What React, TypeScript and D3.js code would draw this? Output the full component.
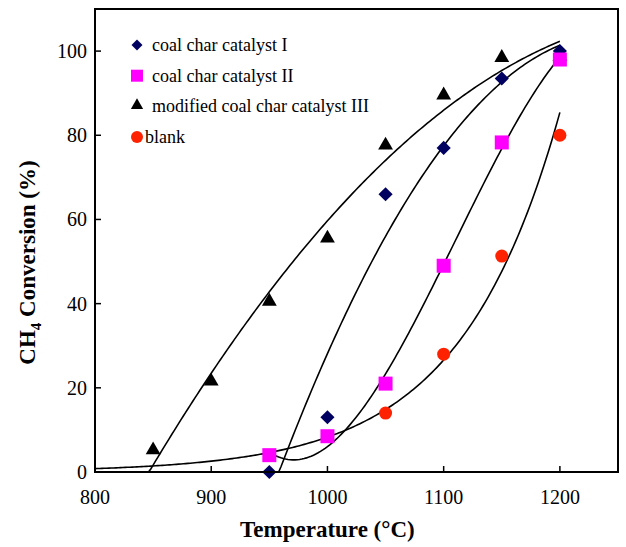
import React from "react";
import * as d3 from "d3";

// Temperatures (°C) and CH4 conversion (%) per sample
const tempsI = [950, 1000, 1050, 1100, 1150, 1200];
const convI = [0, 13, 66, 77, 93.5, 100];

const tempsII = [950, 1000, 1050, 1100, 1150, 1200];
const convII = [4, 8.5, 21, 49, 78.3, 98];

const tempsIII = [850, 900, 950, 1000, 1050, 1100, 1150, 1200];
const convIII = [5, 21.3, 40.3, 55.3, 77.4, 89.3, 98.2, 98.5];

const tempsBlank = [1050, 1100, 1150, 1200];
const convBlank = [14, 28, 51.3, 80];

const xTicks = [800, 900, 1000, 1100, 1200];
const yTicks = [0, 20, 40, 60, 80, 100];

const legendLabels = [
  "coal char catalyst I",
  "coal char catalyst II",
  "modified coal char catalyst III",
  "blank",
];

const W = 626;
const H = 547;
const margin = { top: 9, right: 8, bottom: 75, left: 95 };
const FONT = "'Liberation Serif', 'Times New Roman', serif";

// least squares polynomial fit, x centred/scaled for stability
function polyfit(xs: number[], ys: number[], deg: number) {
  const t = xs.map((x) => (x - 1000) / 100);
  const n = deg + 1;
  const A: number[][] = [];
  for (let i = 0; i < n; i++) {
    A.push(new Array(n + 1).fill(0));
    for (let j = 0; j < n; j++) A[i][j] = d3.sum(t, (v) => Math.pow(v, i + j));
    A[i][n] = d3.sum(t, (v, k) => ys[k] * Math.pow(v, i));
  }
  for (let c = 0; c < n; c++) {
    let p = c;
    for (let r = c + 1; r < n; r++) if (Math.abs(A[r][c]) > Math.abs(A[p][c])) p = r;
    [A[c], A[p]] = [A[p], A[c]];
    for (let r = 0; r < n; r++) {
      if (r === c) continue;
      const f = A[r][c] / A[c][c];
      for (let k = c; k <= n; k++) A[r][k] -= f * A[c][k];
    }
  }
  const coef = A.map((row, i) => row[n] / row[i]);
  return (x: number) => {
    const v = (x - 1000) / 100;
    return coef.reduce((s, c, i) => s + c * Math.pow(v, i), 0);
  };
}

function expfit(xs: number[], ys: number[]) {
  const lin = polyfit(xs, ys.map((y) => Math.log(y)), 1);
  return (x: number) => Math.exp(lin(x));
}

export default function App() {
  const iw = W - margin.left - margin.right;
  const ih = H - margin.top - margin.bottom;

  const x = d3.scaleLinear().domain([800, 1250]).range([0, iw]);
  const y = d3.scaleLinear().domain([0, 110]).range([ih, 0]);

  const fits = [
    { f: polyfit(tempsI, convI, 2), from: 800 },
    { f: polyfit(tempsII, convII, 3), from: d3.min(tempsII) as number },
    { f: polyfit(tempsIII, convIII, 2), from: 800 },
    { f: expfit(tempsBlank, convBlank), from: 800 },
  ];

  const line = d3
    .line<number>()
    .x((d) => x(d))
    .curve(d3.curveLinear);

  const curvePath = (f: (v: number) => number, from: number) =>
    line.y((d) => y(Math.max(0, f(d))))(d3.range(from, 1200.5, 2)) || "";

  // diamond = square rotated 45°
  const diamond = d3.symbol().type(d3.symbolSquare).size(100)() || "";
  const triangle = d3.symbol().type(d3.symbolTriangle).size(95)() || "";
  const diamondSm = d3.symbol().type(d3.symbolSquare).size(60)() || "";
  const triangleSm = d3.symbol().type(d3.symbolTriangle).size(65)() || "";

  const markers = [
    (k: string, sm?: boolean) => (
      <path key={k} d={sm ? diamondSm : diamond} fill="#000060" transform="rotate(45)" />
    ),
    (k: string, sm?: boolean) => {
      const s = sm ? 12 : 14;
      return <rect key={k} x={-s / 2} y={-s / 2} width={s} height={s} fill="#ff00ff" />;
    },
    (k: string, sm?: boolean) => (
      <path key={k} d={sm ? triangleSm : triangle} fill="#000" transform="translate(0,-1)" />
    ),
    (k: string, sm?: boolean) => <circle key={k} r={sm ? 6 : 6.5} fill="#ff2200" />,
  ];

  const series = [
    { xs: tempsI, ys: convI },
    { xs: tempsII, ys: convII },
    { xs: tempsIII, ys: convIII },
    { xs: tempsBlank, ys: convBlank },
  ];

  return (
    <svg
      width={W}
      height={H}
      style={{ position: "absolute", left: 0, top: 0, background: "#fff" }}
      fontFamily={FONT}
    >
      <defs>
        <clipPath id="plot">
          <rect x={0} y={0} width={iw} height={ih} />
        </clipPath>
      </defs>
      <g transform={`translate(${margin.left},${margin.top})`}>
        {/* fitted curves */}
        <g clipPath="url(#plot)">
          {fits.map((c, i) => (
            <path key={i} d={curvePath(c.f, c.from)} fill="none" stroke="#000" strokeWidth={1.6} />
          ))}
        </g>

        {/* points */}
        {[2, 0, 1, 3].map((si) =>
          series[si].xs.map((t, j) => (
            <g key={`${si}-${j}`} transform={`translate(${x(t)},${y(series[si].ys[j])})`}>
              {markers[si](`m${si}-${j}`)}
            </g>
          ))
        )}

        {/* frame */}
        <rect x={0} y={0} width={iw} height={ih} fill="none" stroke="#000" strokeWidth={2} />

        {/* x axis ticks */}
        {xTicks.map((t) => (
          <g key={t} transform={`translate(${x(t)},${ih})`}>
            <line y1={0} y2={-6} stroke="#000" strokeWidth={1.5} />
            <text y={32} textAnchor="middle" fontSize={20}>
              {t}
            </text>
          </g>
        ))}

        {/* y axis ticks */}
        {yTicks.map((t) => (
          <g key={t} transform={`translate(0,${y(t)})`}>
            <line x1={0} x2={6} stroke="#000" strokeWidth={1.5} />
            <text x={-8} dy="0.35em" textAnchor="end" fontSize={20}>
              {t}
            </text>
          </g>
        ))}

        {/* legend */}
        {legendLabels.map((l, i) => (
          <g key={l} transform={`translate(${137 - margin.left},${45 + i * 30.7 - margin.top})`}>
            {markers[i](`lg${i}`, true)}
            <text x={i === 3 ? 8 : 15} dy="0.33em" fontSize={18}>
              {l}
            </text>
          </g>
        ))}
      </g>

      {/* axis titles */}
      <text
        x={margin.left + x(1000)}
        y={537}
        textAnchor="middle"
        fontSize={23}
        fontWeight="bold"
      >
        Temperature (°C)
      </text>
      <text
        transform={`translate(35,${margin.top + ih / 2 + 22}) rotate(-90)`}
        textAnchor="middle"
        fontSize={23}
        fontWeight="bold"
      >
        CH
        <tspan fontSize={15} dy={6}>
          4
        </tspan>
        <tspan dy={-6}> Conversion (%)</tspan>
      </text>
    </svg>
  );
}
